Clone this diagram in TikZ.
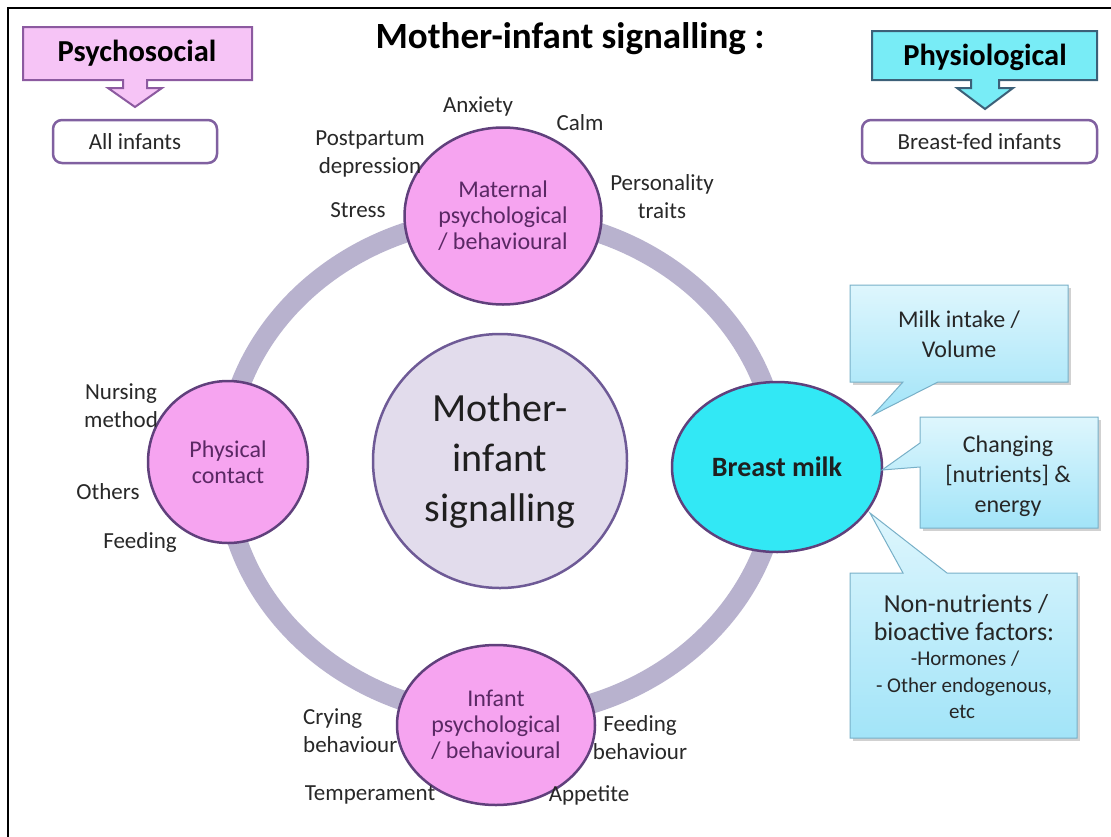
\documentclass[tikz,border=0pt]{standalone}
\usepackage{fontspec}
\setmainfont{Carlito}
\usetikzlibrary{shapes.geometric}
\definecolor{ringc}{RGB}{184,178,206}
\definecolor{pinkfill}{RGB}{246,164,240}
\definecolor{pinkline}{RGB}{96,64,124}
\definecolor{centrefill}{RGB}{226,220,236}
\definecolor{centreline}{RGB}{110,90,150}
\definecolor{milkfill}{RGB}{50,232,245}
\definecolor{psyfill}{RGB}{246,196,246}
\definecolor{psyline}{RGB}{140,90,160}
\definecolor{phyfill}{RGB}{120,236,246}
\definecolor{phyline}{RGB}{60,96,120}
\definecolor{boxline}{RGB}{128,96,160}
\definecolor{calltop}{RGB}{222,246,253}
\definecolor{callbot}{RGB}{162,228,248}
\definecolor{callline}{RGB}{120,176,200}
\definecolor{labelc}{RGB}{40,40,40}
\definecolor{innertext}{RGB}{90,40,100}
\newcommand{\fs}[2]{\fontsize{#1}{#2}\selectfont}
\tikzset{
  hub/.style={ellipse, draw=pinkline, line width=2.5pt, fill=pinkfill, inner sep=0pt,
    text=innertext, align=center, font=\fs{24}{26}},
  sidelabel/.style={text=labelc, align=center, inner sep=0pt, font=\fs{23}{28}},
  targetbox/.style={draw=boxline, line width=2.5pt, fill=white, rounded corners=9pt,
    inner sep=0pt, font=\fs{23}{26}, text=labelc},
  calloutshape/.style={top color=calltop, bottom color=callbot, draw=callline, line width=1pt},
  callshadow/.style={fill=black!18},
  calltext/.style={text=black!85, align=center, inner sep=0pt},
  bigline/.style={calltext, anchor=base, font=\fs{26}{29}},
  smallline/.style={calltext, anchor=base, font=\fs{21}{24}},
}
\begin{document}
\begin{tikzpicture}[x=1pt,y=-1pt]
\useasboundingbox (0,0) rectangle (1111,836);
\fill[white] (0,0) rectangle (1111,836);
% frame
\draw[line width=2.5pt] (8,840) -- (8,8) -- (1115,8);

% title
\node[anchor=base, font=\bfseries\fs{37}{40}, inner sep=0pt] (title) at (570,48) {Mother-infant signalling :};

% header callouts with down arrows
\draw[fill=psyfill, draw=psyline, line width=2pt]
  (23,27) -- (252,27) -- (252,80) -- (147,80) -- (147,88) -- (162,88) -- (135,107)
  -- (108,88) -- (123,88) -- (123,80) -- (23,80) -- cycle;
\node[font=\bfseries\fs{30.5}{32}, inner sep=0pt] (psy) at (137,53) {Psychosocial};
\draw[fill=phyfill, draw=phyline, line width=2pt]
  (872,31) -- (1097,31) -- (1097,80) -- (999,80) -- (999,88) -- (1013,88) -- (985,109)
  -- (957,88) -- (971,88) -- (971,80) -- (872,80) -- cycle;
\node[font=\bfseries\fs{30.5}{32}, inner sep=0pt] (phy) at (985,57) {Physiological};

\node[targetbox, minimum width=164pt, minimum height=43pt] (all) at (135,141.5) {All infants};
\node[targetbox, minimum width=235pt, minimum height=43pt] (fed) at (979.5,141.5) {Breast-fed infants};

% ring
\draw[ringc, line width=20pt] (502,467) ellipse [x radius=277pt, y radius=250pt];

% central circle
\node[circle, draw=centreline, line width=2.5pt, fill=centrefill, minimum size=254pt,
  inner sep=0pt, align=center, font=\fs{40}{50}, text=black!88] (core) at (500,461)
  {Mother-\\infant\\signalling};

% nodes on the ring
\node[hub, minimum width=197pt, minimum height=177pt] (maternal) at (503,216)
  {Maternal\\psychological\\/ behavioural};
\node[hub, minimum width=198pt, minimum height=160pt] (infant) at (496,725)
  {Infant\\psychological\\/ behavioural};
\node[hub, minimum width=160pt, minimum height=162pt] (contact) at (228,462)
  {Physical\\contact};
\node[ellipse, draw=pinkline, line width=2.5pt, fill=milkfill, inner sep=0pt,
  minimum width=210pt, minimum height=170pt, font=\bfseries\fs{28}{30}, text=black!88]
  (milk) at (777,467) {Breast milk};

% labels round the maternal node
\node[sidelabel] (anx) at (478,106) {Anxiety};
\node[sidelabel] (calm) at (580,123) {Calm};
\node[sidelabel] (ppd) at (370,154) {Postpartum\\depression};
\node[sidelabel] (stress) at (358,210) {Stress};
\node[sidelabel] (pers) at (662,197) {Personality\\traits};

% labels round the contact node
\node[sidelabel] (nurse) at (121,406) {Nursing\\method};
\node[sidelabel] (others) at (108,492) {Others};
\node[sidelabel] (feed) at (140,542) {Feeding};

% labels round the infant node
\node[sidelabel, anchor=west, align=left] (cry) at (303,731) {Crying\\behaviour};
\node[sidelabel] (feedb) at (640,738) {Feeding\\behaviour};
\node[sidelabel] (temp) at (370,795) {Temperament};
\node[sidelabel] (app) at (589,795) {Appetite};

% speech callouts from breast milk
\fill[callshadow] (853,288) -- (1071,288) -- (1071,385) -- (853,385) -- cycle;
\path[calloutshape] (850,285) -- (1068,285) -- (1068,382) -- (938,382) -- (873,415)
  -- (903,382) -- (850,382) -- cycle;
\node[calltext, font=\fs{24}{30}] (intake) at (959,334) {Milk intake /\\Volume};

\fill[callshadow] (923,420) -- (1101,420) -- (1101,531) -- (923,531) -- cycle;
\path[calloutshape] (920,417) -- (1098,417) -- (1098,528) -- (920,528) -- (920,467)
  -- (882,470) -- (920,443) -- cycle;
\node[calltext, font=\fs{24}{30}] (change) at (1008,476) {Changing\\{}[nutrients] \&\\energy};

\fill[callshadow] (853,576) -- (1080,576) -- (1080,741) -- (853,741) -- cycle;
\path[calloutshape] (850,573) -- (903,573) -- (870,513) -- (947,573) -- (1077,573)
  -- (1077,738) -- (850,738) -- cycle;
\node[bigline] (bio1) at (966,612) {Non-nutrients /};
\node[bigline] (bio2) at (964,640) {bioactive factors:};
\node[smallline] (bio3) at (965,665) {-Hormones /};
\node[smallline] (bio4) at (964,692) {- Other endogenous,};
\node[smallline] (bio5) at (962,718) {etc};
\end{tikzpicture}
\end{document}
